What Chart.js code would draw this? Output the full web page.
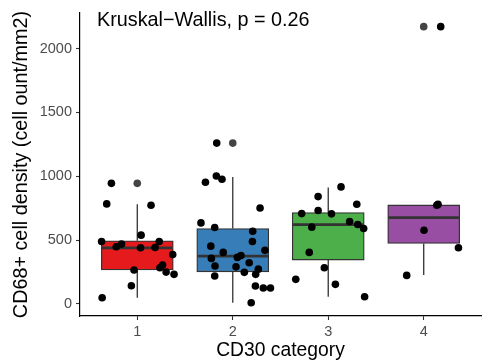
<!DOCTYPE html>
<html>
<head>
<meta charset="utf-8">
<script src="https://cdn.jsdelivr.net/npm/chart.js@4.4.1/dist/chart.umd.min.js"></script>
<style>
  html, body { margin: 0; padding: 0; background: #fff; }
</style>
</head>
<body>
<canvas id="chart" width="485" height="362"></canvas>
<script>
// CD30 category boxes
const categories = [1, 2, 3, 4];
const boxColors = ['#E41A1C', '#377EB8', '#4DAF4A', '#984EA3'];
const q1 = [266, 252, 344, 474];
const median = [440, 375, 622, 677];
const q3 = [495, 591, 716, 776];
const whiskerLow = [49, 10, 57, 227];
const whiskerHigh = [781, 995, 912, 776];

// outliers drawn by the boxplot
const outlierCat = [1, 2, 4];
const outlierVal = [945, 1260, 2172];

// jittered observations
const group1X = [0.729, 0.68, 1.144, 1.04, 0.626, 0.78, 0.835, 1.034, 1.186, 1.23, 1.371, 0.966, 1.265, 1.237, 1.302, 1.385, 0.938, 0.632];
const group1Y = [945, 784, 773, 539, 490, 448, 469, 440, 443, 490, 388, 266, 305, 284, 250, 232, 143, 49];
const group2X = [1.832, 1.828, 1.887, 1.714, 2.286, 1.667, 1.811, 2.209, 2.206, 1.77, 2.337, 1.9, 2.086, 2.048, 1.776, 2.172, 1.814, 2.034, 2.268, 2.121, 2.24, 1.811, 2.237, 2.32, 2.395, 2.193];
const group2Y = [1260, 1003, 977, 953, 752, 635, 599, 570, 490, 453, 420, 404, 380, 365, 357, 323, 297, 291, 273, 248, 232, 219, 141, 125, 125, 10];
const group3X = [3.134, 2.894, 3.299, 2.722, 2.894, 3.034, 3.224, 3.309, 3.371, 2.828, 2.801, 2.959, 2.66, 3.075, 3.381];
const group3Y = [917, 841, 781, 708, 732, 706, 646, 623, 591, 602, 404, 284, 193, 154, 57];
const group4X = [4.178, 4.137, 4.15, 4.003, 4.364, 3.822];
const group4Y = [2172, 773, 780, 578, 440, 224];

const yTicks = [0, 500, 1000, 1500, 2000];
const statLabel = 'Kruskal\u2212Wallis, p = 0.26';

const toPoints = (xs, ys) => xs.map((x, i) => ({ x: x, y: ys[i] }));
const jitter = [].concat(
  toPoints(group1X, group1Y),
  toPoints(group2X, group2Y),
  toPoints(group3X, group3Y),
  toPoints(group4X, group4Y)
);

const FONT = '"Liberation Sans", Arial, Helvetica, sans-serif';

const boxExtras = {
  id: 'boxExtras',
  afterDatasetDraw(chart, args) {
    if (chart.data.datasets[args.index].type !== 'bar') return;
    const { ctx, scales: { x, y } } = chart;
    ctx.save();
    ctx.strokeStyle = '#333333';
    categories.forEach((c, i) => {
      const px = x.getPixelForValue(c);
      ctx.lineWidth = 1.3;
      ctx.beginPath();
      ctx.moveTo(px, y.getPixelForValue(q3[i]));
      ctx.lineTo(px, y.getPixelForValue(whiskerHigh[i]));
      ctx.moveTo(px, y.getPixelForValue(q1[i]));
      ctx.lineTo(px, y.getPixelForValue(whiskerLow[i]));
      ctx.stroke();
      const half = x.getPixelForValue(c + 0.375) - px;
      const my = y.getPixelForValue(median[i]);
      ctx.lineWidth = 2.8;
      ctx.beginPath();
      ctx.moveTo(px - half + 0.6, my);
      ctx.lineTo(px + half - 0.6, my);
      ctx.stroke();
    });
    ctx.restore();
  },
  afterDraw(chart) {
    const { ctx, chartArea } = chart;
    ctx.save();
    ctx.fillStyle = '#000';
    ctx.font = '19.8px ' + FONT;
    ctx.textBaseline = 'alphabetic';
    ctx.fillText(statLabel, chartArea.left + 17, chartArea.top + 13);
    ctx.restore();
  }
};

new Chart(document.getElementById('chart'), {
  type: 'scatter',
  data: {
    datasets: [
      {
        type: 'scatter',
        data: jitter,
        backgroundColor: '#000',
        borderWidth: 0,
        pointRadius: 3.8,
        order: 1
      },
      {
        type: 'scatter',
        data: toPoints(outlierCat, outlierVal),
        backgroundColor: '#444444',
        borderWidth: 0,
        pointRadius: 3.8,
        order: 2
      },
      {
        type: 'bar',
        data: categories.map((c, i) => ({ x: c, y: [q1[i], q3[i]] })),
        backgroundColor: boxColors,
        borderColor: '#333333',
        borderWidth: 1.3,
        borderSkipped: false,
        barThickness: 72,
        grouped: false,
        order: 3
      }
    ]
  },
  options: {
    responsive: false,
    animation: false,
    events: [],
    layout: { padding: { top: 13, right: 0, left: 0, bottom: 0 } },
    plugins: { legend: { display: false }, tooltip: { enabled: false } },
    scales: {
      x: {
        type: 'linear',
        min: 0.4,
        max: 4.6,
        offset: false,
        afterBuildTicks: s => { s.ticks = categories.map(v => ({ value: v })); },
        afterFit: s => { s.height = 46; },
        grid: { offset: false, drawOnChartArea: false, drawTicks: true, tickLength: 4, tickColor: '#333', tickWidth: 1.1 },
        border: { display: true, color: '#000', width: 1.2 },
        ticks: { color: '#4D4D4D', font: { family: FONT, size: 14.5 }, padding: 3, callback: v => String(v) },
        title: { display: true, text: 'CD30 category', color: '#000', font: { family: FONT, size: 19.3 }, padding: { top: 0, bottom: 0 } }
      },
      y: {
        min: -94,
        max: 2279,
        afterBuildTicks: s => { s.ticks = yTicks.map(v => ({ value: v })); },
        afterFit: s => { s.width = 80; },
        grid: { drawOnChartArea: false, drawTicks: true, tickLength: 4, tickColor: '#333', tickWidth: 1.1 },
        border: { display: true, color: '#000', width: 1.2 },
        ticks: { color: '#4D4D4D', font: { family: FONT, size: 14.5 }, padding: 4, callback: v => String(v) },
        title: { display: true, text: 'CD68+ cell density (cell ount/mm2)', color: '#000', font: { family: FONT, size: 19.8 }, padding: { top: 10, bottom: 0 } }
      }
    }
  },
  plugins: [boxExtras]
});
</script>
</body>
</html>
